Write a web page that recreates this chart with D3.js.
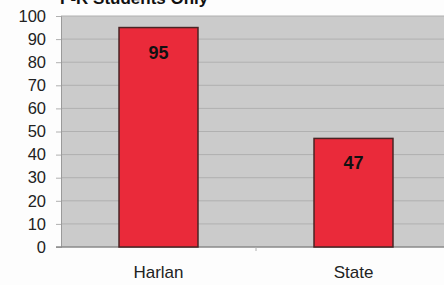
<!DOCTYPE html>
<html>
<head>
<meta charset="utf-8">
<script src="https://cdn.jsdelivr.net/npm/d3@7"></script>
<style>
  body { margin: 0; background: #fdfdfd; }
  svg { display: block; font-family: "Liberation Sans", Arial, sans-serif; }
</style>
</head>
<body>
<div id="stage"></div>
<script>
const categories = ['Harlan', 'State'];
const values = [95, 47];
const yTicks = [0, 10, 20, 30, 40, 50, 60, 70, 80, 90, 100];
const title = 'F-R Students Only';

const width = 444, height = 285;
const margin = { top: 16, right: -7, bottom: 38, left: 61 };

const svg = d3.select('#stage').append('svg')
  .attr('width', width)
  .attr('height', height);

const x = d3.scaleBand()
  .domain(categories)
  .range([margin.left, width - margin.right])
  .paddingInner(0.595)
  .paddingOuter(0.2975);

const y = d3.scaleLinear()
  .domain([0, 100])
  .range([height - margin.bottom, margin.top]);

// plot background
svg.append('rect')
  .attr('x', margin.left)
  .attr('y', margin.top)
  .attr('width', width - margin.left)
  .attr('height', y(0) - margin.top)
  .attr('fill', '#cbcbcb');

// gridlines
svg.append('g')
  .selectAll('line')
  .data(yTicks.slice(1))
  .join('line')
  .attr('x1', margin.left)
  .attr('x2', width)
  .attr('y1', (d) => y(d))
  .attr('y2', (d) => y(d))
  .attr('stroke', '#b0b0b0')
  .attr('stroke-width', 1);

// y axis
const yAxis = svg.append('g')
  .attr('transform', `translate(${margin.left},0)`)
  .call(d3.axisLeft(y).tickValues(yTicks).tickSize(5).tickPadding(10));
yAxis.select('.domain').attr('stroke', '#9a9a9a');
yAxis.selectAll('.tick line').attr('stroke', '#b0b0b0');
yAxis.selectAll('text')
  .attr('font-size', 16.5)
  .attr('fill', '#222');

// x axis
const xAxis = svg.append('g')
  .attr('transform', `translate(0,${y(0)})`)
  .call(d3.axisBottom(x).tickSize(0).tickPadding(19));
xAxis.select('.domain').remove();
xAxis.selectAll('text')
  .attr('font-size', 17)
  .attr('fill', '#222');

svg.append('line')
  .attr('x1', margin.left - 5)
  .attr('x2', width)
  .attr('y1', y(0))
  .attr('y2', y(0))
  .attr('stroke', '#8a8a8a')
  .attr('stroke-width', 1.5);

// separator tick between categories
svg.append('line')
  .attr('x1', x(categories[0]) + x.bandwidth() + x.step() * x.paddingInner() / 2)
  .attr('x2', x(categories[0]) + x.bandwidth() + x.step() * x.paddingInner() / 2)
  .attr('y1', y(0))
  .attr('y2', y(0) + 4)
  .attr('stroke', '#b0b0b0');

// bars
svg.append('g')
  .selectAll('rect')
  .data(values)
  .join('rect')
  .attr('x', (d, i) => x(categories[i]))
  .attr('y', (d) => y(d))
  .attr('width', x.bandwidth())
  .attr('height', (d) => y(0) - y(d))
  .attr('fill', '#ea2a3a')
  .attr('stroke', '#4a2424')
  .attr('stroke-width', 1.5);

// value labels
svg.append('g')
  .selectAll('text')
  .data(values)
  .join('text')
  .attr('x', (d, i) => x(categories[i]) + x.bandwidth() / 2)
  .attr('y', (d) => y(d) + 31)
  .attr('text-anchor', 'middle')
  .attr('font-size', 18)
  .attr('font-weight', 'bold')
  .attr('fill', '#111')
  .text((d) => d);

// title (cut off at top)
svg.append('text')
  .attr('x', 60)
  .attr('y', 4)
  .attr('font-size', 17)
  .attr('font-weight', 'bold')
  .attr('fill', '#111')
  .text(title);
</script>
</body>
</html>
